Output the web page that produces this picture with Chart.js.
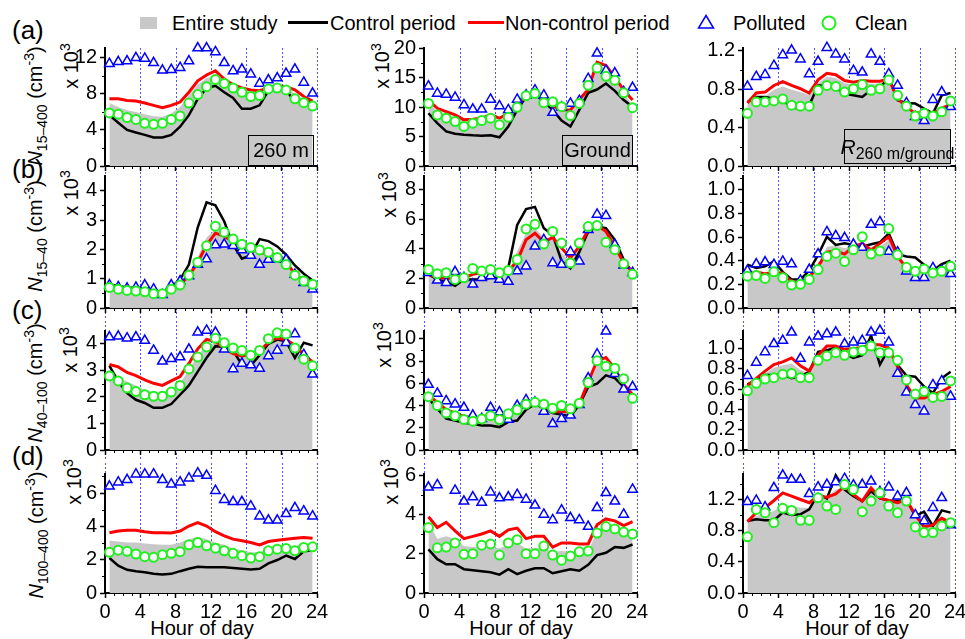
<!DOCTYPE html>
<html>
<head>
<meta charset="utf-8">
<title>Diurnal particle number concentrations</title>
<script src="https://cdn.jsdelivr.net/npm/chart.js@4.4.1/dist/chart.umd.min.js"></script>
<style>
  html, body { margin: 0; padding: 0; background: #fff; overflow: hidden; }
  #fig { position: relative; width: 965px; height: 639px; font-family: "Liberation Sans", Arial, sans-serif; color: #000; }
  #fig canvas { position: absolute; }
  .txt { position: absolute; white-space: nowrap; font-size: 20px; line-height: 20px; }
  .mid { transform: translate(-50%, -50%); }
  .rot { position: absolute; white-space: nowrap; font-size: 20px; line-height: 20px; transform: translate(-50%, -50%) rotate(-90deg); }
  sub, sup { font-size: 14px; vertical-align: baseline; position: relative; }
  sub { top: 5px; }
  sup { top: -8px; }
  .tag { position: absolute; box-sizing: border-box; border: 1.5px solid #000; display: flex; align-items: center; justify-content: center; font-size: 20px; }
  .tag span { white-space: nowrap; }
  .tag sub { font-size: 16px; top: 5px; }
  .letter { position: absolute; font-size: 26px; line-height: 26px; transform: translateY(-50%); }
  .swatch { position: absolute; }
</style>
</head>
<body>
<div id="fig">
  <!-- legend -->
  <div class="swatch" style="left:140px;top:17px;width:17px;height:12px;background:#c8c8c8"></div>
  <div class="txt" style="left:172px;top:13px">Entire study</div>
  <div class="swatch" style="left:288px;top:21px;width:40px;height:3px;background:#000"></div>
  <div class="txt" style="left:330px;top:13px">Control period</div>
  <div class="swatch" style="left:468px;top:21px;width:36px;height:3px;background:#ff0000"></div>
  <div class="txt" style="left:505px;top:13px">Non-control period</div>
  <svg class="swatch" style="left:697px;top:14px" width="18" height="16"><polygon points="9,1.5 16.5,14 1.5,14" fill="#fff" stroke="#0000ff" stroke-width="1.5"/></svg>
  <div class="txt" style="left:733px;top:13px">Polluted</div>
  <svg class="swatch" style="left:820px;top:14px" width="18" height="18"><circle cx="9" cy="9" r="6.5" fill="#fff" stroke="#22ee22" stroke-width="2"/></svg>
  <div class="txt" style="left:855px;top:13px">Clean</div>

  <!-- panel letters -->
  <div class="letter" style="left:12px;top:30px">(a)</div>
  <div class="letter" style="left:12px;top:169px">(b)</div>
  <div class="letter" style="left:12px;top:310px">(c)</div>
  <div class="letter" style="left:12px;top:456px">(d)</div>

  <!-- y titles -->
  <div class="rot" style="left:36px;top:106px"><i>N</i><sub>15–400</sub> (cm<sup>-3</sup>)</div>
  <div class="rot" style="left:36px;top:236px"><i>N</i><sub>15–40</sub> (cm<sup>-3</sup>)</div>
  <div class="rot" style="left:36px;top:383px"><i>N</i><sub>40–100</sub> (cm<sup>-3</sup>)</div>
  <div class="rot" style="left:37px;top:535px"><i>N</i><sub>100–400</sub> (cm<sup>-3</sup>)</div>

  <!-- multipliers -->
  <div class="rot" style="left:72px;top:66px">x 10<sup>3</sup></div>
  <div class="rot" style="left:72px;top:193px">x 10<sup>3</sup></div>
  <div class="rot" style="left:71px;top:350px">x 10<sup>3</sup></div>
  <div class="rot" style="left:75px;top:482px">x 10<sup>3</sup></div>
  <div class="rot" style="left:383px;top:66px">x 10<sup>3</sup></div>
  <div class="rot" style="left:390px;top:195px">x 10<sup>3</sup></div>
  <div class="rot" style="left:385px;top:345px">x 10<sup>3</sup></div>
  <div class="rot" style="left:392px;top:482px">x 10<sup>3</sup></div>

  <!-- x titles -->
  <div class="txt mid" style="left:202px;top:628px">Hour of day</div>
  <div class="txt mid" style="left:521px;top:628px">Hour of day</div>
  <div class="txt mid" style="left:857px;top:628px">Hour of day</div>
</div>

<script>
const hours = [0.5, 1.5, 2.5, 3.5, 4.5, 5.5, 6.5, 7.5, 8.5, 9.5, 10.5, 11.5,
               12.5, 13.5, 14.5, 15.5, 16.5, 17.5, 18.5, 19.5, 20.5, 21.5, 22.5, 23.5];

// (a) N15-400, 260 m
const a260Entire  = [6.98, 6.55, 6.18, 6.0, 5.75, 5.53, 5.45, 5.82, 6.55, 7.82, 9.02, 9.75, 9.9, 9.09, 8.55, 8.18, 7.93, 7.93, 8.44, 8.73, 8.62, 8.0, 7.35, 6.91];
const a260Control = [5.64, 4.8, 4.0, 3.71, 3.45, 3.16, 3.16, 3.45, 4.36, 5.64, 7.45, 8.65, 8.9, 8.18, 7.56, 6.36, 6.36, 6.73, 8.36, 8.8, 8.44, 7.09, 7.27, 7.09];
const a260NonCtrl = [7.45, 7.45, 7.27, 7.2, 6.98, 6.73, 6.47, 6.73, 7.09, 8.18, 9.45, 10.1, 10.55, 9.64, 9.02, 8.65, 8.44, 8.36, 8.65, 8.9, 8.8, 8.44, 7.71, 7.2];
const a260Polluted = [11.35, 11.56, 11.64, 12.0, 11.93, 11.45, 10.62, 10.69, 10.9, 11.64, 13.09, 13.09, 12.65, 11.45, 10.55, 10.73, 10.18, 9.16, 9.53, 9.75, 10.25, 10.73, 9.27, 8.07];
const a260Clean   = [5.89, 5.75, 5.38, 5.16, 4.73, 4.62, 4.73, 5.16, 5.56, 6.98, 7.93, 8.8, 9.6, 9.16, 8.65, 8.18, 7.71, 7.82, 8.55, 8.65, 8.44, 7.45, 7.02, 6.65];

// (a) N15-400, ground
const aGndEntire  = [10.9, 9.2, 8.66, 8.27, 7.54, 7.54, 7.82, 8.27, 7.71, 8.66, 10.61, 12.0, 12.29, 10.89, 10.17, 9.5, 8.94, 10.89, 13.1, 17.04, 16.5, 14.8, 12.29, 10.34];
const aGndControl = [8.94, 7.26, 5.87, 5.47, 5.31, 5.2, 5.14, 5.2, 4.86, 6.7, 9.5, 11.73, 12.18, 10.89, 9.5, 7.71, 6.7, 9.5, 12.4, 12.96, 13.97, 12.74, 11.17, 10.06];
const aGndNonCtrl = [11.17, 9.78, 9.22, 8.66, 7.82, 7.93, 8.1, 8.66, 8.1, 8.94, 10.61, 11.73, 12.4, 11.17, 10.17, 9.5, 9.5, 11.28, 12.96, 17.6, 17.04, 15.08, 12.85, 11.17];
const aGndPolluted = [13.52, 12.29, 12.12, 11.62, 10.34, 9.61, 9.61, 11.28, 10.17, 9.5, 11.28, 12.01, 12.85, 12.01, 9.05, 9.94, 10.61, 11.06, 14.8, 19.1, 16.2, 15.75, 12.57, 13.3];
const aGndClean   = [10.61, 8.66, 8.1, 7.54, 6.7, 7.26, 7.71, 8.1, 6.98, 8.27, 9.94, 11.9, 12.29, 10.73, 10.89, 10.06, 8.55, 10.61, 13.69, 16.59, 15.2, 14.53, 12.4, 9.89];

// (a) N15-400, ratio 260 m / ground
const aRatEntire  = [0.651, 0.72, 0.727, 0.795, 0.83, 0.795, 0.771, 0.737, 0.864, 0.932, 0.919, 0.864, 0.85, 0.864, 0.857, 0.857, 0.898, 0.703, 0.624, 0.549, 0.549, 0.531, 0.624, 0.651];
const aRatControl = [0.668, 0.72, 0.72, 0.703, 0.686, 0.61, 0.6, 0.634, 0.84, 0.84, 0.816, 0.754, 0.737, 0.72, 0.795, 0.816, 0.926, 0.686, 0.658, 0.651, 0.6, 0.549, 0.737, 0.761];
const aRatNonCtrl = [0.658, 0.761, 0.771, 0.84, 0.881, 0.84, 0.806, 0.761, 0.898, 0.967, 0.953, 0.891, 0.874, 0.891, 0.884, 0.884, 0.908, 0.703, 0.617, 0.549, 0.566, 0.549, 0.6, 0.645];
const aRatPolluted = [0.83, 0.932, 0.953, 1.046, 1.159, 1.207, 1.114, 0.96, 1.09, 1.234, 1.166, 1.114, 0.994, 0.977, 1.166, 1.09, 0.96, 0.84, 0.658, 0.514, 0.473, 0.692, 0.771, 0.617];
const aRatClean   = [0.549, 0.668, 0.668, 0.679, 0.699, 0.634, 0.624, 0.624, 0.789, 0.84, 0.83, 0.771, 0.806, 0.85, 0.789, 0.806, 0.898, 0.737, 0.624, 0.521, 0.549, 0.521, 0.566, 0.679];

// (b) N15-40
const b260Entire  = [0.62, 0.6, 0.58, 0.57, 0.55, 0.52, 0.5, 0.6, 0.78, 1.2, 1.75, 2.4, 2.7, 2.5, 2.1, 1.95, 1.88, 1.82, 1.78, 1.7, 1.55, 1.1, 0.88, 0.72];
const b260Control = [0.8, 0.75, 0.7, 0.68, 0.65, 0.6, 0.55, 0.72, 0.97, 1.48, 2.75, 3.6, 3.5, 2.95, 2.15, 1.68, 1.8, 2.35, 2.28, 2.1, 1.82, 1.45, 1.17, 0.94];
const b260NonCtrl = [0.72, 0.68, 0.64, 0.62, 0.6, 0.56, 0.52, 0.66, 0.8, 1.1, 1.55, 2.15, 2.55, 2.45, 2.25, 2.1, 2.0, 1.88, 1.84, 1.78, 1.58, 1.15, 0.93, 0.8];
const b260Polluted = [0.78, 0.72, 0.67, 0.7, 0.78, 0.64, 0.45, 0.78, 0.92, 1.09, 1.48, 1.67, 2.15, 2.17, 2.12, 1.98, 1.79, 1.48, 1.65, 1.65, 1.65, 1.14, 0.86, 0.64];
const b260Clean   = [0.7, 0.64, 0.6, 0.58, 0.55, 0.49, 0.49, 0.64, 0.78, 1.12, 1.56, 2.12, 2.79, 2.58, 2.35, 2.17, 2.06, 1.98, 1.9, 1.72, 1.48, 1.12, 0.92, 0.81];

const bGndEntire  = [2.27, 1.93, 1.82, 1.78, 1.93, 2.04, 2.09, 2.16, 2.16, 2.31, 3.82, 5.04, 5.38, 4.76, 4.71, 3.71, 3.04, 4.16, 5.33, 5.64, 5.27, 4.38, 3.16, 2.38];
const bGndControl = [2.27, 1.93, 1.78, 1.49, 1.93, 1.93, 1.93, 2.04, 2.04, 2.71, 5.6, 6.67, 6.82, 5.38, 4.93, 3.16, 2.67, 3.78, 5.16, 5.49, 5.38, 4.6, 3.27, 2.38];
const bGndNonCtrl = [2.27, 2.04, 2.0, 1.93, 2.04, 2.27, 2.38, 2.49, 2.44, 2.49, 3.16, 4.6, 5.04, 4.44, 4.76, 4.04, 3.38, 4.16, 5.27, 5.6, 5.16, 4.16, 3.04, 2.44];
const bGndPolluted = [2.38, 1.87, 1.71, 2.44, 2.04, 1.6, 2.04, 2.16, 1.93, 1.78, 2.49, 2.82, 4.16, 4.6, 3.04, 2.93, 3.78, 3.16, 5.27, 6.31, 6.22, 4.27, 2.89, 2.38];
const bGndClean   = [2.6, 2.31, 2.38, 1.93, 2.04, 2.67, 2.49, 2.6, 2.38, 2.53, 3.27, 5.33, 5.64, 4.31, 5.16, 4.38, 3.04, 4.38, 5.49, 5.56, 4.44, 3.93, 2.98, 2.27];

const bRatEntire  = [0.256, 0.283, 0.278, 0.283, 0.269, 0.214, 0.214, 0.256, 0.353, 0.519, 0.528, 0.506, 0.519, 0.533, 0.5, 0.519, 0.575, 0.422, 0.339, 0.317, 0.306, 0.289, 0.306, 0.317];
const bRatControl = [0.367, 0.339, 0.353, 0.394, 0.306, 0.242, 0.242, 0.317, 0.45, 0.603, 0.533, 0.547, 0.533, 0.519, 0.539, 0.556, 0.631, 0.456, 0.436, 0.428, 0.367, 0.317, 0.372, 0.4];
const bRatNonCtrl = [0.283, 0.306, 0.289, 0.297, 0.297, 0.222, 0.228, 0.261, 0.353, 0.472, 0.483, 0.456, 0.519, 0.547, 0.492, 0.547, 0.603, 0.436, 0.339, 0.325, 0.317, 0.297, 0.311, 0.333];
const bRatPolluted = [0.317, 0.372, 0.389, 0.367, 0.394, 0.372, 0.233, 0.325, 0.456, 0.644, 0.611, 0.594, 0.539, 0.511, 0.706, 0.728, 0.478, 0.472, 0.311, 0.256, 0.256, 0.339, 0.317, 0.289];
const bRatClean   = [0.269, 0.275, 0.25, 0.306, 0.256, 0.194, 0.2, 0.242, 0.325, 0.436, 0.464, 0.394, 0.492, 0.603, 0.456, 0.483, 0.672, 0.45, 0.344, 0.311, 0.331, 0.297, 0.311, 0.353];

// (c) N40-100
const c260Entire  = [2.82, 2.72, 2.58, 2.43, 2.27, 2.18, 2.2, 2.3, 2.51, 3.01, 3.57, 3.94, 4.04, 3.91, 3.75, 3.67, 3.59, 3.69, 4.04, 4.21, 4.16, 3.81, 3.54, 3.29];
const c260Control = [3.17, 2.58, 2.14, 1.89, 1.77, 1.59, 1.59, 1.73, 2.08, 2.43, 2.95, 3.47, 3.91, 3.88, 3.75, 3.2, 3.17, 3.57, 4.0, 4.16, 4.09, 3.47, 4.04, 3.94];
const c260NonCtrl = [3.22, 3.13, 2.92, 2.8, 2.64, 2.51, 2.43, 2.6, 2.76, 3.26, 3.81, 4.16, 4.09, 3.81, 3.63, 3.54, 3.59, 3.72, 4.06, 4.21, 4.16, 3.94, 3.59, 3.32];
const c260Polluted = [4.25, 4.28, 4.21, 4.25, 4.12, 3.75, 3.34, 3.44, 3.5, 3.79, 4.43, 4.5, 4.43, 3.79, 3.05, 3.26, 3.2, 3.07, 3.54, 3.75, 4.04, 4.37, 3.59, 2.85];
const c260Clean   = [2.79, 2.6, 2.33, 2.2, 2.08, 2.02, 2.02, 2.18, 2.43, 3.05, 3.5, 3.88, 4.21, 4.04, 3.84, 3.75, 3.57, 3.75, 4.19, 4.41, 4.37, 3.84, 3.42, 3.17];

const cGndEntire  = [4.79, 4.06, 3.32, 3.03, 2.74, 2.59, 2.59, 2.82, 2.59, 2.94, 3.47, 4.0, 4.21, 3.91, 3.47, 3.41, 3.32, 4.06, 5.97, 7.59, 7.88, 7.0, 5.82, 4.79];
const cGndControl = [4.65, 3.71, 2.82, 2.65, 2.44, 2.35, 2.21, 2.21, 2.06, 2.53, 2.65, 3.62, 4.12, 3.76, 3.32, 3.18, 3.03, 4.06, 5.68, 5.97, 6.71, 6.47, 5.68, 4.94];
const cGndNonCtrl = [4.94, 4.29, 3.62, 3.32, 3.03, 2.88, 2.94, 3.24, 2.88, 3.24, 3.76, 4.21, 4.29, 3.91, 3.41, 3.47, 3.41, 4.12, 6.12, 8.03, 8.32, 7.29, 5.88, 5.0];
const cGndPolluted = [5.88, 5.09, 4.41, 4.12, 3.82, 3.12, 2.82, 3.82, 3.41, 2.74, 4.0, 4.5, 4.29, 3.47, 2.35, 2.82, 3.12, 4.06, 6.47, 8.62, 10.68, 6.85, 5.47, 5.68];
const cGndClean   = [4.79, 4.0, 3.32, 3.09, 2.74, 2.59, 2.79, 3.09, 2.74, 3.26, 3.62, 4.12, 4.29, 4.12, 3.76, 4.0, 3.71, 4.21, 6.06, 8.03, 7.53, 7.35, 6.41, 4.65];

const cRatEntire  = [0.627, 0.692, 0.756, 0.812, 0.838, 0.854, 0.789, 0.756, 0.919, 1.0, 1.006, 0.974, 0.968, 0.984, 1.026, 1.0, 0.984, 0.821, 0.659, 0.545, 0.545, 0.545, 0.594, 0.636];
const cRatControl = [0.649, 0.692, 0.74, 0.74, 0.747, 0.708, 0.724, 0.773, 0.968, 0.984, 1.016, 0.951, 0.909, 0.935, 1.13, 0.844, 1.0, 0.838, 0.734, 0.724, 0.627, 0.562, 0.708, 0.773];
const cRatNonCtrl = [0.636, 0.708, 0.779, 0.844, 0.87, 0.909, 0.831, 0.779, 0.935, 1.026, 1.026, 0.994, 1.0, 1.016, 1.039, 1.039, 1.006, 0.821, 0.643, 0.513, 0.513, 0.545, 0.578, 0.627];
const cRatPolluted = [0.734, 0.864, 0.968, 1.049, 1.081, 1.162, 0.903, 1.065, 1.123, 1.146, 1.162, 1.049, 1.065, 1.081, 1.162, 1.179, 1.065, 0.756, 0.571, 0.448, 0.383, 0.643, 0.682, 0.529];
const cRatClean   = [0.584, 0.659, 0.701, 0.714, 0.747, 0.756, 0.714, 0.714, 0.886, 0.929, 0.961, 0.935, 0.968, 0.984, 1.026, 0.961, 0.961, 0.886, 0.692, 0.552, 0.578, 0.519, 0.529, 0.682];

// (d) N100-400
const d260Entire  = [3.13, 3.09, 3.03, 3.03, 2.97, 2.93, 2.89, 2.89, 3.03, 3.23, 3.37, 3.23, 3.03, 2.89, 2.69, 2.57, 2.44, 2.44, 2.69, 2.77, 2.83, 2.83, 2.89, 2.89];
const d260Control = [2.1, 1.64, 1.39, 1.31, 1.25, 1.15, 1.11, 1.15, 1.31, 1.45, 1.58, 1.54, 1.54, 1.54, 1.5, 1.45, 1.41, 1.45, 1.78, 1.98, 2.24, 2.04, 2.5, 2.57];
const d260NonCtrl = [3.62, 3.72, 3.76, 3.76, 3.68, 3.62, 3.62, 3.6, 3.72, 4.02, 4.22, 4.02, 3.68, 3.43, 3.23, 3.13, 3.03, 2.89, 3.09, 3.17, 3.23, 3.29, 3.33, 3.29];
const d260Polluted = [6.4, 6.65, 6.79, 7.13, 7.13, 7.13, 6.79, 6.53, 6.65, 6.89, 7.19, 7.05, 6.14, 5.6, 5.47, 5.47, 5.21, 4.61, 4.36, 4.36, 4.75, 5.11, 4.91, 4.61];
const d260Clean   = [2.44, 2.57, 2.5, 2.34, 2.18, 2.14, 2.3, 2.38, 2.48, 2.89, 3.03, 2.83, 2.69, 2.53, 2.38, 2.24, 2.1, 2.18, 2.53, 2.63, 2.67, 2.53, 2.73, 2.77];

const dGndEntire  = [3.65, 2.78, 2.9, 2.78, 2.4, 2.35, 2.4, 2.4, 2.28, 2.48, 2.56, 2.28, 2.31, 2.28, 2.11, 2.15, 2.11, 2.11, 2.15, 3.15, 3.45, 3.4, 3.18, 3.12];
const dGndControl = [2.23, 1.73, 1.47, 1.47, 1.22, 1.17, 1.11, 1.06, 0.94, 1.22, 0.97, 1.14, 1.27, 1.27, 1.01, 1.11, 1.22, 1.14, 1.44, 1.94, 2.06, 2.35, 2.31, 2.48];
const dGndNonCtrl = [3.9, 3.35, 3.62, 3.18, 2.78, 2.9, 3.02, 3.18, 2.9, 3.23, 3.32, 2.78, 2.9, 2.9, 2.35, 2.56, 2.56, 2.51, 2.51, 3.49, 3.79, 3.69, 3.45, 3.65];
const dGndPolluted = [5.41, 5.53, null, 5.25, 4.69, 4.91, 4.63, 5.16, 4.86, 4.91, 5.03, 4.79, 4.49, 4.02, 3.74, 4.24, 3.85, 3.74, 3.4, 4.36, 5.13, 4.69, 4.02, 5.3];
const dGndClean   = [3.35, 2.31, 2.35, 2.56, 1.98, 2.01, 2.45, 2.51, 1.94, 2.56, 2.73, 2.01, 2.01, 2.4, 1.94, 1.68, 1.89, 2.11, 2.15, 3.07, 3.4, 3.28, 3.12, 3.02];

const dRatEntire  = [0.903, 0.988, 1.018, 1.052, 1.137, 1.115, 1.094, 1.094, 1.243, 1.221, 1.327, 1.349, 1.264, 1.187, 1.315, 1.213, 1.187, 1.158, 1.179, 0.988, 0.882, 0.882, 0.975, 0.925];
const dRatControl = [0.925, 0.946, 0.933, 0.933, 1.031, 1.001, 1.009, 1.073, 1.272, 1.213, 1.51, 1.327, 1.243, 1.179, 1.306, 1.213, 1.187, 1.179, 1.2, 0.988, 1.043, 0.861, 1.06, 1.031];
const dRatNonCtrl = [0.916, 1.031, 1.094, 1.187, 1.285, 1.243, 1.2, 1.158, 1.243, 1.23, 1.272, 1.37, 1.264, 1.179, 1.349, 1.221, 1.187, 1.158, 1.2, 1.001, 0.848, 0.874, 0.958, 0.903];
const dRatPolluted = [1.17, 1.187, 1.103, 1.349, 1.51, 1.455, 1.455, 1.272, 1.357, 1.391, 1.425, 1.467, 1.383, 1.391, 1.433, 1.298, 1.357, 1.243, 1.285, 1.001, 0.925, 1.094, 1.221, 0.874];
const dRatClean   = [0.721, 1.073, 1.031, 0.903, 1.086, 1.06, 0.933, 0.933, 1.221, 1.115, 1.073, 1.391, 1.327, 1.043, 1.179, 1.285, 1.115, 1.031, 1.179, 0.848, 0.776, 0.776, 0.861, 0.903];

// y axis range per panel: max, major step, decimals
const panels = [
  { row: 0, col: 0, sets: [a260Entire, a260Control, a260NonCtrl, a260Polluted, a260Clean], max: 13.09, step: 4, dec: 0 },
  { row: 0, col: 1, sets: [aGndEntire, aGndControl, aGndNonCtrl, aGndPolluted, aGndClean], max: 20, step: 5, dec: 0 },
  { row: 0, col: 2, sets: [aRatEntire, aRatControl, aRatNonCtrl, aRatPolluted, aRatClean], max: 1.231, step: 0.4, dec: 1 },
  { row: 1, col: 0, sets: [b260Entire, b260Control, b260NonCtrl, b260Polluted, b260Clean], max: 4.5, step: 1, dec: 0 },
  { row: 1, col: 1, sets: [bGndEntire, bGndControl, bGndNonCtrl, bGndPolluted, bGndClean], max: 8.9, step: 2, dec: 0 },
  { row: 1, col: 2, sets: [bRatEntire, bRatControl, bRatNonCtrl, bRatPolluted, bRatClean], max: 1.117, step: 0.2, dec: 1 },
  { row: 2, col: 0, sets: [c260Entire, c260Control, c260NonCtrl, c260Polluted, c260Clean], max: 4.48, step: 1, dec: 0 },
  { row: 2, col: 1, sets: [cGndEntire, cGndControl, cGndNonCtrl, cGndPolluted, cGndClean], max: 10.7, step: 2, dec: 0 },
  { row: 2, col: 2, sets: [cRatEntire, cRatControl, cRatNonCtrl, cRatPolluted, cRatClean], max: 1.175, step: 0.2, dec: 1 },
  { row: 3, col: 0, sets: [d260Entire, d260Control, d260NonCtrl, d260Polluted, d260Clean], max: 7.14, step: 2, dec: 0 },
  { row: 3, col: 1, sets: [dGndEntire, dGndControl, dGndNonCtrl, dGndPolluted, dGndClean], max: 6.09, step: 2, dec: 0 },
  { row: 3, col: 2, sets: [dRatEntire, dRatControl, dRatNonCtrl, dRatPolluted, dRatClean], max: 1.527, step: 0.4, dec: 1 },
];

// plot-area geometry on the page
const plotLeft = [105, 424, 743];
const plotWidth = [212, 213, 212];
const rowTop = [47, 175, 330, 473];
const rowBottom = [167, 309, 451, 593];
const gridAbove = [0, 4, 10, 11];
const gridBelow = [4, 11, 11, 0];
const AXIS_W = 60, PAD_TOP = 14, PAD_RIGHT = 14;

const GREEN = '#22ee22';

Chart.defaults.font.family = '"Liberation Sans", Arial, sans-serif';
Chart.defaults.font.size = 20;
Chart.defaults.color = '#000';

// dotted hour lines (running through the whole column) plus minor ticks
const panelDeco = {
  id: 'panelDeco',
  beforeDraw(chart, args, opts) {
    const { ctx, chartArea } = chart;
    const xs = chart.scales.x, ys = chart.scales.y;
    ctx.save();
    ctx.strokeStyle = 'rgba(40,40,255,0.8)';
    ctx.lineWidth = 1;
    ctx.setLineDash([2, 2]);
    for (let h = 0; h <= 24; h += 4) {
      const px = Math.round(xs.getPixelForValue(h)) + 0.5;
      ctx.beginPath();
      ctx.moveTo(px, chartArea.top - opts.above);
      ctx.lineTo(px, chartArea.bottom + opts.below);
      ctx.stroke();
    }
    ctx.setLineDash([]);
    ctx.strokeStyle = '#000';
    for (let h = 1; h < 24; h++) {
      if (h % 4 === 0) continue;
      const px = Math.round(xs.getPixelForValue(h)) + 0.5;
      ctx.beginPath();
      ctx.moveTo(px, chartArea.bottom);
      ctx.lineTo(px, chartArea.bottom + 3);
      ctx.stroke();
    }
    for (let v = opts.minor; v < ys.max; v += 2 * opts.minor) {
      const py = Math.round(ys.getPixelForValue(v)) + 0.5;
      ctx.beginPath();
      ctx.moveTo(chartArea.left - 3, py);
      ctx.lineTo(chartArea.left, py);
      ctx.stroke();
    }
    ctx.restore();
  }
};

const fig = document.getElementById('fig');

panels.forEach(p => {
  const isBottom = p.row === 3;
  const xAxisH = isBottom ? 46 : 14;
  const cv = document.createElement('canvas');
  const w = AXIS_W + plotWidth[p.col] + PAD_RIGHT;
  const h = PAD_TOP + (rowBottom[p.row] - rowTop[p.row]) + xAxisH;
  cv.width = w;
  cv.height = h;
  cv.style.left = (plotLeft[p.col] - AXIS_W) + 'px';
  cv.style.top = (rowTop[p.row] - PAD_TOP) + 'px';
  fig.appendChild(cv);

  const pts = ys => ys.map((y, i) => ({ x: hours[i], y: y }));
  const [entire, control, nonCtrl, polluted, clean] = p.sets;

  new Chart(cv, {
    type: 'line',
    data: {
      datasets: [
        { label: 'Clean', data: pts(clean), showLine: false, pointStyle: 'circle',
          pointRadius: 4.5, pointBorderWidth: 2, pointBorderColor: GREEN,
          pointBackgroundColor: '#fff', order: 0 },
        { label: 'Polluted', data: pts(polluted), showLine: false, pointStyle: 'triangle',
          pointRadius: 5.5, pointBorderWidth: 1.5, pointBorderColor: '#0000ff',
          pointBackgroundColor: '#fff', order: 1 },
        { label: 'Non-control period', data: pts(nonCtrl), borderColor: '#ff0000',
          borderWidth: 3, pointRadius: 0, order: 2 },
        { label: 'Control period', data: pts(control), borderColor: '#000',
          borderWidth: 2.5, pointRadius: 0, order: 3 },
        { label: 'Entire study', data: pts(entire), fill: 'origin', backgroundColor: '#c8c8c8',
          borderColor: 'rgba(0,0,0,0)', borderWidth: 1, pointRadius: 0, order: 4 },
      ]
    },
    options: {
      responsive: false,
      animation: false,
      events: [],
      clip: false,
      layout: { padding: { top: PAD_TOP, right: PAD_RIGHT, left: 0, bottom: 0 } },
      plugins: {
        legend: { display: false },
        tooltip: { enabled: false },
        panelDeco: { above: gridAbove[p.row], below: gridBelow[p.row], minor: p.step / 2 }
      },
      scales: {
        x: {
          type: 'linear', min: 0, max: 24,
          ticks: { stepSize: 4, display: isBottom, padding: 2, maxRotation: 0, autoSkip: false },
          grid: { drawOnChartArea: false, color: '#000', tickLength: 5, tickWidth: 1.5 },
          border: { color: '#000', width: 2 },
          afterFit: s => { s.height = xAxisH; }
        },
        y: {
          min: 0, max: p.max,
          ticks: { stepSize: p.step, includeBounds: false, padding: 3, autoSkip: false,
                   callback: v => Number(v).toFixed(p.dec) },
          grid: { drawOnChartArea: false, color: '#000', tickLength: 5, tickWidth: 1.5 },
          border: { color: '#000', width: 2 },
          afterFit: s => { s.width = AXIS_W; }
        }
      }
    },
    plugins: [panelDeco]
  });
});

// framed labels naming each column
const tags = [
  { html: '<span>260 m</span>', left: 248, top: 135, w: 66, h: 31 },
  { html: '<span>Ground</span>', left: 562, top: 135, w: 71, h: 31 },
  { html: '<span><i style="font-size:21px">R</i><sub>260 m/ground</sub></span>', left: 844, top: 129, w: 107, h: 35 },
];
tags.forEach(t => {
  const d = document.createElement('div');
  d.className = 'tag';
  d.innerHTML = t.html;
  Object.assign(d.style, { left: t.left + 'px', top: t.top + 'px', width: t.w + 'px', height: t.h + 'px' });
  fig.appendChild(d);
});
</script>
</body>
</html>
